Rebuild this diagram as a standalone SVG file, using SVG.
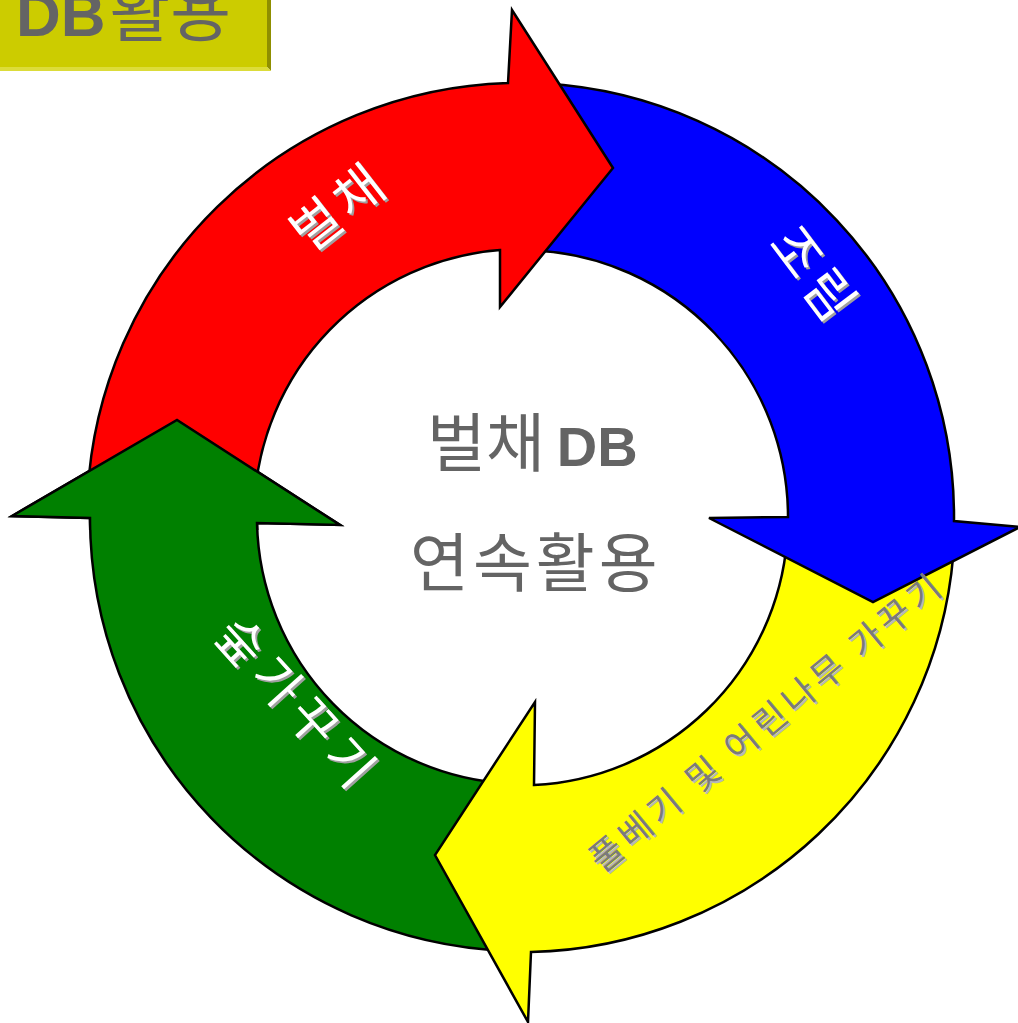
<svg xmlns="http://www.w3.org/2000/svg" width="1018" height="1023" viewBox="0 0 1018 1023">
<style>
.arrow{stroke:#000;stroke-width:2.5;stroke-linejoin:miter}
.kr{font-family:"Noto Sans CJK KR","Noto Sans",sans-serif}
.lat{font-family:"Liberation Sans",Arial,sans-serif;font-weight:bold}
.w{fill:#ffffff}
.ws{fill:#a0a0a0}
.g{fill:#7a7a7a}
.gs{fill:#b8b8b8}
.ctr{fill:#646464}
</style>
<defs>
<path id="pGreen" d="M505.9,950.7 A434,434 0 0 1 90,518 L12,516 L177,420 L340,525 L257,523 A267,267 0 0 0 511.7,783.8 Z"/>
<clipPath id="clipGreenHead"><rect x="0" y="380" width="370" height="150"/></clipPath>
</defs>
<rect x="0" y="0" width="1018" height="1023" fill="#ffffff"/>
<g id="header">
<rect x="-10" y="-10" width="277" height="77" fill="#CCCC00"/>
<polygon points="267,-10 271,-10 271,71 267,67" fill="#8F8F00"/>
<polygon points="-10,67 267,67 271,71 -10,71" fill="#DCDC3A"/>
<text x="16" y="36" class="ctr"><tspan class="lat" font-size="62">DB</tspan><tspan class="kr" dx="4" font-size="66">활용</tspan></text>
</g>
<g id="connectors">
<g id="node-green"><use href="#pGreen" class="arrow" fill="#008000"/></g>
<g id="node-yellow"><path class="arrow" fill="#FFFF00" d="M953.3,554.8 A434,434 0 0 1 531,952 L528,1022 L435,855 L535,702 L534,785 A267,267 0 0 0 787,540.3 Z"/></g>
<g id="node-blue"><path class="arrow" fill="#0000FF" d="M543.7,83.6 A434,434 0 0 1 954,521 L1020,527 L873,602 L709,518 L788,517 A267,267 0 0 0 535,250.4 Z"/></g>
<g id="node-red"><path class="arrow" fill="#FF0000" d="M87.6,494.3 A434,434 0 0 1 508,83 L512,10 L613,168 L500,307 L500,250 A267,267 0 0 0 254.4,503 Z"/></g>
<g id="node-green-head"><use href="#pGreen" class="arrow" fill="#008000" clip-path="url(#clipGreenHead)"/></g>
</g>
<g id="labels" class="kr">
<g id="label-red" transform="translate(337,208)" font-size="52" letter-spacing="6" text-anchor="middle">
<text class="ws" transform="translate(2,2) rotate(-38)" x="3" y="19">벌채</text>
<text class="w" transform="rotate(-38)" x="3" y="19">벌채</text>
</g>
<g id="label-blue" transform="translate(813,273)" font-size="52" letter-spacing="6" text-anchor="middle">
<text class="ws" transform="translate(2,2) rotate(53)" x="3" y="19">조림</text>
<text class="w" transform="rotate(53)" x="3" y="19">조림</text>
</g>
<g id="label-green" transform="translate(295,702)" font-size="50" letter-spacing="8" text-anchor="middle">
<text class="ws" transform="translate(2,2) rotate(48)" x="4" y="18">숲가꾸기</text>
<text class="w" transform="rotate(48)" x="4" y="18">숲가꾸기</text>
</g>
<g id="label-yellow" transform="translate(765,724)" font-size="35" letter-spacing="5" text-anchor="middle">
<text class="gs" transform="translate(2,2) rotate(-39.5)" x="3" y="12">풀베기 및 어린나무 가꾸기</text>
<text class="g" transform="rotate(-39.5)" x="3" y="12">풀베기 및 어린나무 가꾸기</text>
</g>
</g>
<g id="center" class="ctr">
<text x="427" y="466" class="kr" font-size="64">벌채<tspan class="lat" dx="12" font-size="56">DB</tspan></text>
<text x="410" y="586" class="kr" font-size="64" letter-spacing="4">연속활용</text>
</g>
</svg>
